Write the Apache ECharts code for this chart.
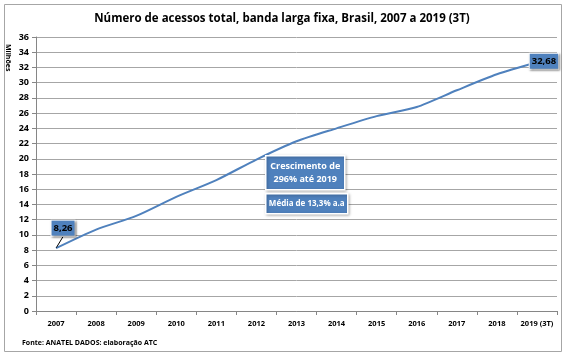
<!DOCTYPE html>
<html>
<head>
<meta charset="utf-8">
<script src="https://cdn.jsdelivr.net/npm/echarts@6/dist/echarts.min.js"></script>
<style>
  html, body { margin: 0; padding: 0; background: #fff; }
  #main { width: 564px; height: 353px; }
</style>
</head>
<body>
<div id="main"></div>
<script>
// dados (milhões de acessos)
var anos = ['2007', '2008', '2009', '2010', '2011', '2012', '2013', '2014', '2015', '2016', '2017', '2018', '2019 (3T)'];
var acessos = [8.26, 10.7, 12.5, 15.0, 17.2, 19.9, 22.3, 24.0, 25.6, 26.8, 29.0, 31.1, 32.68];
var yTicks = [0, 36, 2];

var chartDom = document.getElementById('main');
var myChart = echarts.init(chartDom);
var option;

var font = 'Open Sans';
var azul = '#4f81bd';
var ultimo = acessos.length - 1;

var dados = acessos.map(function (v, i) {
  var item = { value: v };
  if (i === 0 || i === ultimo) {
    item.label = { show: true };
  }
  if (i === ultimo) {
    item.labelLine = { show: false };
  }
  return item;
});

option = {
  animation: false,
  textStyle: { fontFamily: font },
  title: {
    text: 'Número de acessos total, banda larga fixa, Brasil, 2007 a 2019 (3T)',
    left: 'center',
    top: 8,
    textStyle: { fontSize: 11.5, fontWeight: 'bold', color: '#000', fontFamily: font }
  },
  grid: {
    left: 36,
    right: 7,
    top: 37,
    bottom: 42
  },
  xAxis: {
    type: 'category',
    data: anos,
    boundaryGap: true,
    axisLine: { lineStyle: { color: '#868686' } },
    axisTick: { show: true, length: 4, lineStyle: { color: '#868686' } },
    axisLabel: { color: '#000', fontWeight: 'bold', fontSize: 7.5, margin: 9, interval: 0 },
    splitLine: { show: false }
  },
  yAxis: {
    type: 'value',
    min: yTicks[0],
    max: yTicks[1],
    interval: yTicks[2],
    axisLine: { show: true, lineStyle: { color: '#868686' } },
    axisTick: { show: true, length: 4, lineStyle: { color: '#868686' } },
    axisLabel: { color: '#000', fontWeight: 'bold', fontSize: 9, margin: 7 },
    splitLine: { lineStyle: { color: '#a6a6a6', width: 1 } }
  },
  series: [
    {
      name: 'Acessos',
      type: 'line',
      smooth: 0.25,
      symbol: 'circle',
      symbolSize: 1,
      showAllSymbol: true,
      itemStyle: { color: 'rgba(0,0,0,0)', borderWidth: 0 },
      data: dados,
      lineStyle: { color: azul, width: 2 },
      labelLine: { show: true, lineStyle: { color: '#000', width: 1 } },
      labelLayout: function (p) {
        if (p.dataIndex === 0) {
          return { dx: 7, dy: -20 };
        }
        if (p.dataIndex === ultimo) {
          return { dx: 7, dy: -1 };
        }
        return {};
      },
      label: {
        show: false,
        position: 'inside',
        formatter: function (p) { return p.value.toFixed(2).replace('.', ','); },
        backgroundColor: azul,
        color: '#000',
        fontWeight: 'bold',
        fontSize: 9.5,
        padding: [3, 2, 2, 2],
        borderColor: '#fff',
        borderWidth: 1,
        shadowColor: 'rgba(0,0,0,0.35)',
        shadowBlur: 2,
        shadowOffsetX: 1,
        shadowOffsetY: 1
      }
    }
  ],
  graphic: [
    {
      type: 'rect',
      left: 2, top: 2,
      shape: { width: 557, height: 347 },
      style: { fill: 'none', stroke: '#a6a6a6', lineWidth: 1 },
      silent: true
    },
    {
      type: 'text',
      left: 4, top: 44,
      rotation: -Math.PI / 2,
      style: { text: 'Milhões', fontSize: 7, fontWeight: 'bold', fill: '#000', fontFamily: font }
    },
    {
      type: 'group',
      left: 265, top: 155,
      z: 20,
      children: [
        {
          type: 'rect',
          z: 20,
          shape: { width: 79, height: 34 },
          style: { fill: azul, stroke: '#fff', lineWidth: 1.5, shadowColor: 'rgba(0,0,0,0.3)', shadowBlur: 3, shadowOffsetX: 1, shadowOffsetY: 1 }
        },
        {
          type: 'text',
          z: 21,
          x: 39.5, y: 17,
          style: {
            text: 'Crescimento de\n296% até 2019',
            fill: '#fff', fontSize: 9, fontWeight: 'bold', fontFamily: font,
            align: 'center', verticalAlign: 'middle', lineHeight: 13
          }
        }
      ]
    },
    {
      type: 'group',
      left: 265, top: 193,
      z: 20,
      children: [
        {
          type: 'rect',
          z: 20,
          shape: { width: 82, height: 20 },
          style: { fill: azul, stroke: '#fff', lineWidth: 1.5, shadowColor: 'rgba(0,0,0,0.3)', shadowBlur: 3, shadowOffsetX: 1, shadowOffsetY: 1 }
        },
        {
          type: 'text',
          z: 21,
          x: 41, y: 10,
          style: {
            text: 'Média de 13,3% a.a',
            fill: '#fff', fontSize: 8, fontWeight: 'bold', fontFamily: font,
            align: 'center', verticalAlign: 'middle'
          }
        }
      ]
    },
    {
      type: 'text',
      left: 22, top: 339,
      style: { text: 'Fonte: ANATEL DADOS: elaboração ATC', fontSize: 7, fontWeight: 'bold', fill: '#000', fontFamily: font }
    }
  ]
};

option && myChart.setOption(option);
</script>
</body>
</html>
